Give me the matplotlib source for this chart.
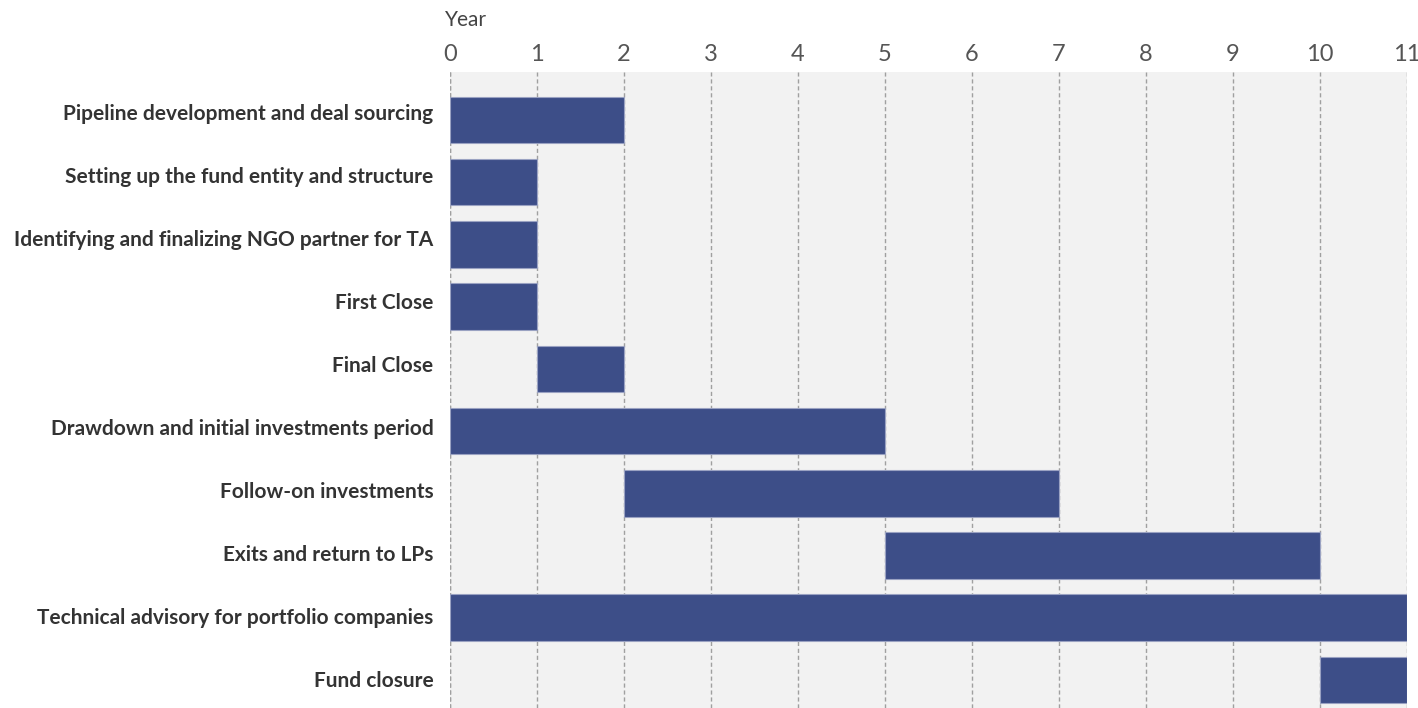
import matplotlib.pyplot as plt

# Fund timeline (years)
tasks = ["Pipeline development and deal sourcing",
         "Setting up the fund entity and structure",
         "Identifying and finalizing NGO partner for TA",
         "First Close",
         "Final Close",
         "Drawdown and initial investments period",
         "Follow-on investments",
         "Exits and return to LPs",
         "Technical advisory for portfolio companies",
         "Fund closure"]
start = [0, 0, 0, 0, 1, 0, 2, 5, 0, 10]
end = [2, 1, 1, 1, 2, 5, 7, 10, 11, 11]
years = list(range(0, 12))

fig = plt.figure(figsize=(14.18, 7.08), dpi=100)
ax = fig.add_axes([450 / 1418, 0, 957 / 1418, 1 - 72 / 708])
ax.set_facecolor("#f2f2f2")

rows = list(range(len(tasks)))
widths = [e - s for s, e in zip(start, end)]
ax.barh(rows, widths, left=start, height=0.75, color="#3d4e88",
        edgecolor="#9aa2c2", linewidth=0.8, zorder=3)

ax.set_xlim(0, 11)
ax.set_ylim(9.45, -0.77)
ax.set_xticks(years)
ax.xaxis.tick_top()
ax.tick_params(axis="x", length=0, pad=5, labelsize=17, labelcolor="#555555")
for lbl in ax.get_xticklabels():
    lbl.set_fontfamily("Lato")
    lbl.set_fontweight("normal")

# labels sit on their own band scale, slightly offset from the bars
label_pos = [-0.13 + 1.013 * r for r in rows]
ax.set_yticks(label_pos)
ax.set_yticklabels(tasks, fontfamily="Lato", fontweight="bold",
                   fontsize=15, color="#333333")
ax.tick_params(axis="y", length=0, pad=12)
ax.grid(axis="x", color="#a0a0a0", linestyle=(0, (3, 2)), linewidth=1, zorder=1)
ax.axvline(0, color="#a0a0a0", linestyle=(0, (3, 2)), linewidth=1, zorder=1)
for s in ax.spines.values():
    s.set_visible(False)

fig.text(445 / 1418, 1 - 20 / 708, "Year", fontfamily="Lato", fontsize=15,
         color="#444444", va="center", ha="left")

fig.savefig("out.png", dpi=100)
